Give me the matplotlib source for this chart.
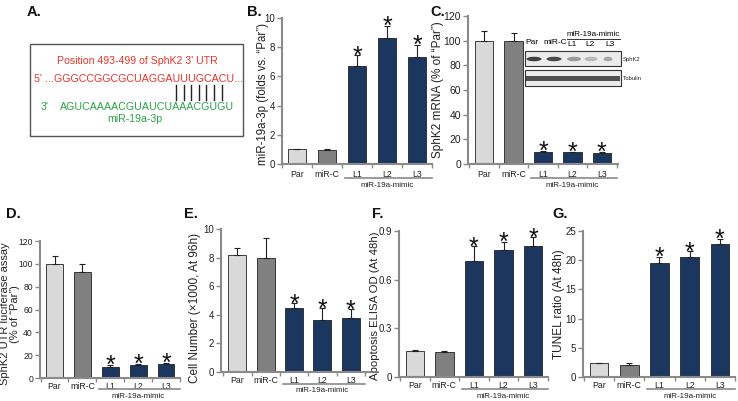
import matplotlib
matplotlib.use('Agg')
import matplotlib.pyplot as plt
from matplotlib.patches import Rectangle, Ellipse
from matplotlib.transforms import ScaledTranslation
import numpy as np

plt.rcParams['font.family'] = ['Liberation Sans', 'DejaVu Sans']

W, H = 738, 401

groups = ['Par', 'miR-C', 'L1', 'L2', 'L3']
bar_colors = ['#d9d9d9', '#808080', '#1b365f', '#1b365f', '#1b365f']

# panel B
b_vals = [1.0, 0.98, 6.72, 8.63, 7.33]
b_err = [0.03, 0.05, 0.72, 0.85, 0.8]
# panel C
c_vals = [100, 100, 10.0, 9.5, 9.0]
c_err = [8, 6, 0.6, 0.6, 0.5]
# panel D
d_vals = [100, 93, 10, 11, 12]
d_err = [7, 6.5, 1.5, 1.0, 1.5]
# panel E
e_vals = [8.2, 8.0, 4.5, 3.65, 3.8]
e_err = [0.45, 1.35, 0.3, 0.8, 0.58]
# panel F
f_vals = [0.16, 0.155, 0.715, 0.785, 0.805]
f_err = [0.005, 0.005, 0.09, 0.05, 0.055]
# panel G
g_vals = [2.35, 2.1, 19.5, 20.5, 22.7]
g_err = [0.06, 0.3, 1.0, 1.0, 1.0]

# western blot band intensities (0 = none, 1 = strong)
sphk2_band = [0.85, 0.8, 0.4, 0.25, 0.35]
tubulin_band = [0.85, 0.85, 0.85, 0.85, 0.85]

GRAY = '#8a8a8a'

fig = plt.figure(figsize=(W / 100, H / 100), dpi=100)


def px_axes(x0, y0, x1, y1):
    return fig.add_axes([x0 / W, 1 - y1 / H, (x1 - x0) / W, (y1 - y0) / H])


def bar_panel(box, vals, err, ylim, yticks, ylabel, xlim, label_x,
              width=0.62, ylab_size=8.5, ticklabels=None, label_y=0.5,
              xpad=4, mimic_off=21, tick_size=7.2):
    ax = px_axes(*box)
    ax.patch.set_visible(False)
    x = np.arange(len(vals))
    ax.bar(x, vals, width=width, color=bar_colors, edgecolor='#222222',
           linewidth=0.6, zorder=2)
    ax.errorbar(x, vals, yerr=[np.zeros(len(err)), err], fmt='none',
                ecolor='#222222', elinewidth=0.8, capsize=2.5, capthick=0.8,
                zorder=3)
    ax.set_xlim(*xlim)
    ax.set_ylim(*ylim)
    ax.set_yticks(yticks)
    if ticklabels is None:
        ticklabels = [str(t) for t in yticks]
    ax.set_yticklabels(ticklabels, fontsize=tick_size, color='#222222')
    ax.set_xticks(x)
    ax.set_xticklabels(groups, fontsize=6.3, color='#222222')
    ax.tick_params(axis='x', length=0, pad=xpad)
    ax.set_xticks(np.arange(-0.5, len(vals), 1.0), minor=True)
    ax.tick_params(axis='x', which='minor', length=3, color=GRAY, width=1,
                   direction='out')
    ax.tick_params(axis='y', length=3.5, color=GRAY, width=1, pad=1.5)
    for s in ['top', 'right']:
        ax.spines[s].set_visible(False)
    for s in ['left', 'bottom']:
        ax.spines[s].set_color(GRAY)
        ax.spines[s].set_linewidth(1.5)
    ax.set_ylabel(ylabel, fontsize=ylab_size, color='#222222',
                  linespacing=1.0, va='center', ha='center')
    x0, x1 = box[0], box[2]
    ax.yaxis.set_label_coords((label_x - x0) / (x1 - x0), label_y)
    # asterisks
    for i in range(2, 5):
        ax.annotate('*', xy=(x[i], vals[i] + err[i]), xytext=(0, -8),
                    textcoords='offset pixels', ha='center', va='baseline',
                    fontsize=18, color='#111111', annotation_clip=False)
    # group bracket under L1-L3
    trans = ax.get_xaxis_transform()
    ln = plt.Line2D([1.6, 4.5], [0, 0], color=GRAY, linewidth=1.2,
                    clip_on=False)
    ln.set_transform(trans + ScaledTranslation(0, -(mimic_off - 7) / 100,
                                               fig.dpi_scale_trans))
    ax.add_line(ln)
    ax.annotate('miR-19a-mimic', xy=(3, 0), xycoords=trans,
                xytext=(0, -mimic_off), textcoords='offset pixels',
                ha='center', va='center', fontsize=5.8, color='#222222',
                annotation_clip=False)
    return ax


# ---- bar panels ----
bar_panel((282, 18, 432, 164), b_vals, b_err, (0, 10), [0, 2, 4, 6, 8, 10],
          'miR-19a-3p (folds vs. \u201cPar\u201d)', (-0.48, 4.5), 263,
          ylab_size=8.3, label_y=0.48, tick_size=7)
bar_panel((468, 16, 618, 164), c_vals, c_err, (0, 120),
          [0, 20, 40, 60, 80, 100, 120],
          'SphK2 mRNA (% of \u201cPar\u201d)', (-0.55, 4.55), 438,
          ylab_size=8.5, label_y=0.5, tick_size=7.5)
bar_panel((40, 241, 180, 378), d_vals, d_err, (0, 120),
          [0, 20, 40, 60, 80, 100, 120],
          'SphK2 UTR luciferase assay\n(% of \u201cPar\u201d)', (-0.52, 4.5),
          10, width=0.6, ylab_size=8.0, xpad=3, mimic_off=18, tick_size=6.2,
          label_y=0.47)
bar_panel((221, 229, 370, 372), e_vals, e_err, (0, 10), [0, 2, 4, 6, 8, 10],
          'Cell Number (\u00d71000, At 96h)', (-0.58, 4.68), 195, width=0.64,
          ylab_size=8.5, label_y=0.45, xpad=3, mimic_off=19, tick_size=7)
bar_panel((399, 231, 548, 377), f_vals, f_err, (0, 0.9), [0, 0.3, 0.6, 0.9],
          'Apoptosis ELISA OD (At 48h)', (-0.53, 4.43), 375,
          ticklabels=['0', '0.3', '0.6', '0.9'], ylab_size=8.2, xpad=3,
          mimic_off=19, label_y=0.49, tick_size=7.0)
bar_panel((583, 231, 735, 377), g_vals, g_err, (0, 25),
          [0, 5, 10, 15, 20, 25], 'TUNEL ratio (At 48h)', (-0.53, 4.4), 559,
          ylab_size=8.5, xpad=3, mimic_off=19, tick_size=7)

# ---- overlay: panel A, letters, blot ----
axA = px_axes(0, 0, W, H)
axA.set_zorder(5)
axA.patch.set_visible(False)
axA.set_xlim(0, W)
axA.set_ylim(H, 0)
axA.axis('off')
axA.add_patch(Rectangle((30, 44), 213, 92, fill=False, edgecolor='#555555',
                        linewidth=1.0))
red = '#e8342a'
green = '#2aa44a'
axA.text(137, 61, "Position 493-499 of SphK2 3' UTR", color=red,
         fontsize=7.6, ha='center', va='center')
axA.text(34, 79, "5' ...GGGCCGGCGCUAGGAUUUGCACU...", color=red,
         fontsize=7.7, ha='left', va='center')
for k in range(7):
    xx = 176 + k * 7.6
    axA.plot([xx, xx], [85, 100], color='#222222', linewidth=1.0)
axA.text(41, 107, "3'", color=green, fontsize=7.7, ha='left', va='center')
axA.text(60, 107, "AGUCAAAACGUAUCUAAACGUGU", color=green, fontsize=7.7,
         ha='left', va='center')
axA.text(135, 119, "miR-19a-3p", color=green, fontsize=7.6, ha='center',
         va='center')

for lab, (lx, ly) in {'A.': (27, 12), 'B.': (247, 12), 'C.': (430, 12),
                      'D.': (6, 214), 'E.': (184, 214), 'F.': (372, 214),
                      'G.': (552, 214)}.items():
    axA.text(lx, ly, lab, fontsize=10.5, fontweight='bold', ha='left',
             va='center', color='#111111')

lane_x = [534, 554, 574, 591, 608]
lane_w = [15, 15, 14, 13, 9]
for (y0, y1), band, name in [((51, 66), sphk2_band, 'SphK2'),
                             ((70, 86), tubulin_band, 'Tubulin')]:
    axA.add_patch(Rectangle((525, y0), 96, y1 - y0, facecolor='#ececec',
                            edgecolor='#333333', linewidth=0.8))
    yc = (y0 + y1) / 2 + 0.5
    if name == 'Tubulin':
        axA.add_patch(Rectangle((526, yc - 2.5), 94, 5, facecolor='#333333',
                                edgecolor='none', alpha=tubulin_band[0]))
    else:
        for lx, lw, b in zip(lane_x, lane_w, band):
            axA.add_patch(Ellipse((lx, yc), lw, 4.5, facecolor='#222222',
                                  edgecolor='none', alpha=b))
    axA.text(623, yc, name, fontsize=4.2, ha='left', va='center',
             color='#222222')
axA.text(532, 42, 'Par', fontsize=6, ha='center', va='center')
axA.text(555, 42, 'miR-C', fontsize=6, ha='center', va='center')
axA.text(593, 34, 'miR-19a-mimic', fontsize=5.8, ha='center', va='center')
axA.plot([567, 620], [38.5, 38.5], color='#333333', linewidth=0.7)
for lab, lx in zip(['L1', 'L2', 'L3'], [572, 590, 610]):
    axA.text(lx, 45, lab, fontsize=6, ha='center', va='center')

fig.savefig('out.png', dpi=100)
